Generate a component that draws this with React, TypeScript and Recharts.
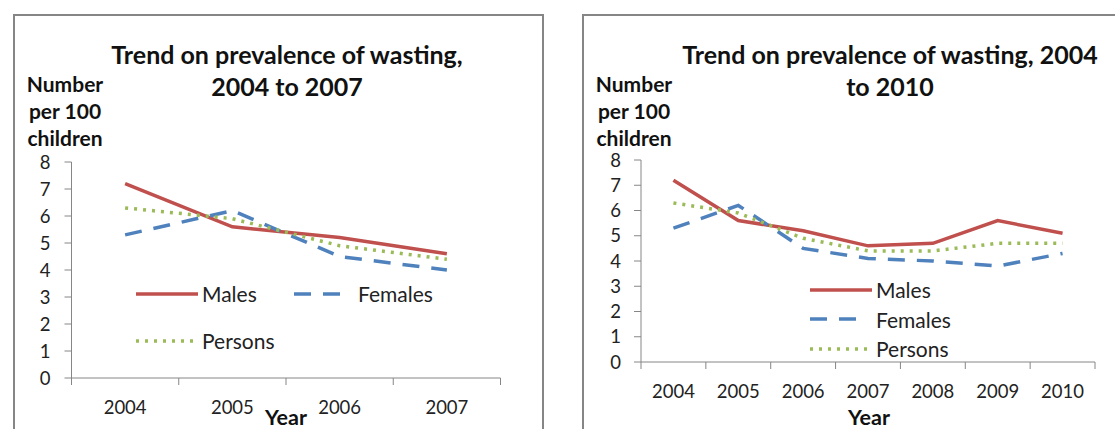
import React from "react";
import { LineChart, Line, XAxis, YAxis } from "recharts";

const FONT = "Lato, 'Open Sans', sans-serif";
const GREY = "#868686";
const TICK_SIZE = 7;
const X_TICK_MARGIN = 16;

// 2004 to 2007 panel
const years2007 = ["2004", "2005", "2006", "2007"];
const males2007 = [7.2, 5.6, 5.2, 4.6];
const females2007 = [5.3, 6.2, 4.5, 4.0];
const persons2007 = [6.3, 5.9, 4.9, 4.4];

// 2004 to 2010 panel
const years2010 = ["2004", "2005", "2006", "2007", "2008", "2009", "2010"];
const males2010 = [7.2, 5.6, 5.2, 4.6, 4.7, 5.6, 5.1];
const females2010 = [5.3, 6.2, 4.5, 4.1, 4.0, 3.8, 4.3];
const persons2010 = [6.3, 5.9, 4.9, 4.4, 4.4, 4.7, 4.7];

const yTicks = [0, 1, 2, 3, 4, 5, 6, 7, 8];
const yLabel = ["Number", "per 100", "children"];

const seriesStyles = [
  { name: "Males", color: "#C0504D", dash: undefined as string | undefined, len: 62 },
  { name: "Females", color: "#4F81BD", dash: "17 12", len: 48 },
  { name: "Persons", color: "#9BBB59", dash: "3 6", len: 58 },
];

function buildRows(years: string[], males: number[], females: number[], persons: number[]) {
  return years.map((year, i) => ({
    year,
    Males: males[i],
    Females: females[i],
    Persons: persons[i],
  }));
}

function YearTick(props: any) {
  const { x, y, payload, index, band } = props;
  const axisY = y - TICK_SIZE - X_TICK_MARGIN;
  return (
    <g>
      {index === 0 && (
        <line x1={x - band / 2} x2={x - band / 2} y1={axisY} y2={axisY + TICK_SIZE} stroke={GREY} />
      )}
      <line x1={x + band / 2} x2={x + band / 2} y1={axisY} y2={axisY + TICK_SIZE} stroke={GREY} />
      <text x={x} y={y} dy="0.71em" textAnchor="middle" fontSize={18.5} fontFamily={FONT} fill="#222">
        {payload.value}
      </text>
    </g>
  );
}

function LegendBox({ left, top, colWidth, rowHeight, cols }: any) {
  return (
    <div
      style={{
        position: "absolute",
        left,
        top,
        display: "grid",
        gridTemplateColumns: `repeat(${cols}, ${colWidth}px)`,
        gridAutoRows: rowHeight,
        fontFamily: FONT,
        fontSize: 21,
        color: "#222",
      }}
    >
      {seriesStyles.map((s) => (
        <div key={s.name} style={{ display: "flex", alignItems: "center", height: rowHeight }}>
          <svg width={63} height={8} style={{ marginRight: cols > 1 && s.name === "Females" ? 2 : 4 }}>
            <line x1={1} x2={1 + s.len} y1={4} y2={4} stroke={s.color} strokeWidth={3.5} strokeDasharray={s.dash} />
          </svg>
          <span>{s.name}</span>
        </div>
      ))}
    </div>
  );
}

function Panel(props: any) {
  const { x, width, years, rows, plotLeft, plotRight, plotTop, plotBottom, titleLines, titleX, labelX, yearX, legend, yTickMargin } = props;
  const height = 429;
  const yAxisWidth = 40;
  const xAxisHeight = 30;
  const plotWidth = plotRight - plotLeft;
  const band = plotWidth / years.length;
  return (
    <>
      <div style={{ position: "absolute", left: x, top: 0 }}>
        <LineChart
          width={width}
          height={height}
          data={rows}
          margin={{
            top: plotTop,
            right: width - plotRight,
            bottom: height - plotBottom - xAxisHeight,
            left: plotLeft - yAxisWidth,
          }}
        >
          <XAxis
            dataKey="year"
            height={xAxisHeight}
            interval={0}
            padding={{ left: band / 2, right: band / 2 }}
            tickLine={false}
            tickSize={TICK_SIZE}
            tickMargin={X_TICK_MARGIN}
            axisLine={{ stroke: GREY }}
            tick={(p: any) => <YearTick {...p} band={band} />}
          />
          <YAxis
            width={yAxisWidth}
            domain={[0, 8]}
            ticks={yTicks}
            interval={0}
            tickSize={TICK_SIZE}
            tickMargin={yTickMargin}
            axisLine={{ stroke: GREY }}
            tickLine={{ stroke: GREY }}
            tick={{ fontSize: 18.5, fontFamily: FONT, fill: "#222" }}
          />
          {seriesStyles.map((s) => (
            <Line
              key={s.name}
              type="linear"
              dataKey={s.name}
              stroke={s.color}
              strokeWidth={3.5}
              strokeDasharray={s.dash}
              dot={false}
              isAnimationActive={false}
            />
          ))}
        </LineChart>
      </div>
      {titleLines.map((t: string, i: number) => (
        <div
          key={t}
          style={{
            position: "absolute",
            left: titleX - 300,
            width: 600,
            top: 54 + i * 32 - 16,
            lineHeight: "32px",
            textAlign: "center",
            fontFamily: FONT,
            fontWeight: 700,
            fontSize: 25,
            color: "#111",
            whiteSpace: "nowrap",
          }}
        >
          {t}
        </div>
      ))}
      {yLabel.map((t, i) => (
        <div
          key={t}
          style={{
            position: "absolute",
            left: labelX - 60,
            width: 120,
            top: 84 + i * 27 - 13,
            lineHeight: "26px",
            textAlign: "center",
            fontFamily: FONT,
            fontWeight: 700,
            fontSize: 21,
            color: "#111",
          }}
        >
          {t}
        </div>
      ))}
      <div
        style={{
          position: "absolute",
          left: yearX - 50,
          width: 100,
          top: 417 - 13,
          lineHeight: "26px",
          textAlign: "center",
          fontFamily: FONT,
          fontWeight: 700,
          fontSize: 21.5,
          color: "#111",
        }}
      >
        Year
      </div>
      <LegendBox {...legend} />
    </>
  );
}

export default function App() {
  const rows2007 = buildRows(years2007, males2007, females2007, persons2007);
  const rows2010 = buildRows(years2010, males2010, females2010, persons2010);
  return (
    <div
      style={{
        position: "absolute",
        left: 0,
        top: 0,
        width: 1115,
        height: 429,
        overflow: "hidden",
        background: "#fff",
      }}
    >
      <div style={{ position: "absolute", left: 13, top: 14, width: 527, height: 520, border: `2px solid ${GREY}` }} />
      <div style={{ position: "absolute", left: 582, top: 14, width: 600, height: 520, border: `2px solid ${GREY}` }} />
      <Panel
        x={0}
        width={560}
        years={years2007}
        rows={rows2007}
        plotLeft={71.5}
        plotRight={500.5}
        plotTop={162}
        plotBottom={378}
        yTickMargin={14}
        titleLines={["Trend on prevalence of wasting,", "2004 to 2007"]}
        titleX={287}
        labelX={65}
        yearX={286}
        legend={{ left: 135, top: 293 - 23, colWidth: 158, rowHeight: 47, cols: 2 }}
      />
      <Panel
        x={560}
        width={555}
        years={years2010}
        rows={rows2010}
        plotLeft={81}
        plotRight={535}
        plotTop={160}
        plotBottom={362}
        yTickMargin={13}
        titleLines={["Trend on prevalence of wasting, 2004", "to 2010"]}
        titleX={890}
        labelX={634}
        yearX={869}
        legend={{ left: 809, top: 290 - 15, colWidth: 160, rowHeight: 29.5, cols: 1 }}
      />
    </div>
  );
}
